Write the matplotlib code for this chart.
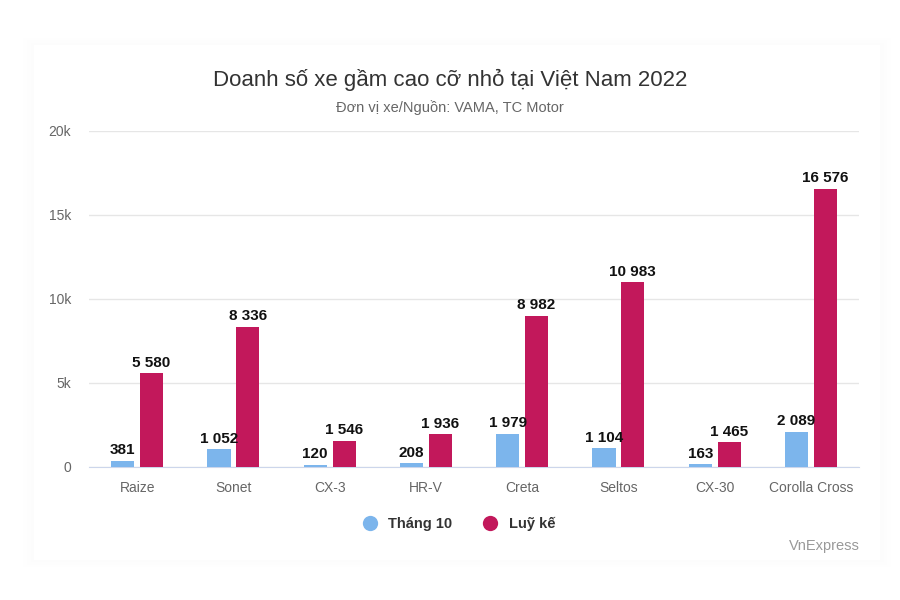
import numpy as np
import matplotlib.pyplot as plt
from matplotlib.patches import Rectangle
from matplotlib.lines import Line2D

plt.rcParams['font.family'] = ['Liberation Sans', 'DejaVu Sans']

xe = ['Raize', 'Sonet', 'CX-3', 'HR-V', 'Creta', 'Seltos', 'CX-30', 'Corolla Cross']
thang10 = [381, 1052, 120, 208, 1979, 1104, 163, 2089]
luyke = [5580, 8336, 1546, 1936, 8982, 10983, 1465, 16576]

mau_xanh = '#7cb5ec'
mau_do = '#c2185b'


def dinh_dang(v):
    return f'{v:,}'.replace(',', ' ')


fig = plt.figure(figsize=(9, 6), dpi=100)
fig.patch.set_facecolor('white')

# khung the (card) voi bong mo
for i, a in enumerate([0.012, 0.018, 0.025]):
    d = (3 - i) * 0.004
    fig.patches.append(Rectangle((0.038 - d, 0.067 - d), 0.94 + 2 * d, 0.858 + 2 * d,
                                 transform=fig.transFigure, facecolor='#f3ead8',
                                 alpha=a, edgecolor='none', zorder=-2))
fig.patches.append(Rectangle((0.038, 0.067), 0.94, 0.858, transform=fig.transFigure,
                             facecolor='white', edgecolor='none', zorder=-1))

ax = fig.add_axes([0.0989, 0.2217, 0.8556, 0.56])
ax.set_facecolor('none')
ax.set_zorder(1)

x = np.arange(len(xe))
w = 0.24
ax.bar(x - 0.15, thang10, w, color=mau_xanh, zorder=3)
ax.bar(x + 0.15, luyke, w, color=mau_do, zorder=3)

for xi, v in zip(x, thang10):
    ax.text(xi - 0.15, v + 220, dinh_dang(v), ha='center', va='bottom',
            fontsize=11, fontweight='bold', color='#111111', zorder=4)
for xi, v in zip(x, luyke):
    ax.text(xi + 0.15, v + 220, dinh_dang(v), ha='center', va='bottom',
            fontsize=11, fontweight='bold', color='#111111', zorder=4)

ax.set_xlim(-0.5, len(xe) - 0.5)
ax.set_ylim(0, 20000)
ax.set_yticks([0, 5000, 10000, 15000, 20000])
ax.set_yticklabels(['0', '5k', '10k', '15k', '20k'])
ax.set_xticks(x)
ax.set_xticklabels(xe)
ax.tick_params(axis='both', length=0, labelsize=10, colors='#666666')
ax.tick_params(axis='x', pad=10)
ax.tick_params(axis='y', pad=13)

ax.grid(axis='y', color='#e6e6e6', linewidth=1, zorder=0)
for s in ['top', 'right', 'left']:
    ax.spines[s].set_visible(False)
ax.spines['bottom'].set_color('#ccd6eb')

fig.text(0.5, 0.867, 'Doanh số xe gầm cao cỡ nhỏ tại Việt Nam 2022', ha='center',
         va='center', fontsize=16, color='#333333')
fig.text(0.5, 0.821, 'Đơn vị xe/Nguồn: VAMA, TC Motor', ha='center', va='center',
         fontsize=10.5, color='#666666')

handles = [Line2D([], [], marker='o', linestyle='none', markersize=11,
                  markerfacecolor=mau_xanh, markeredgecolor='none', label='Tháng 10'),
           Line2D([], [], marker='o', linestyle='none', markersize=11,
                  markerfacecolor=mau_do, markeredgecolor='none', label='Luỹ kế')]
leg = fig.legend(handles=handles, loc='center', bbox_to_anchor=(0.506, 0.127), ncol=2,
                 frameon=False, handletextpad=0.25, columnspacing=1.6,
                 prop={'weight': 'bold', 'size': 10.5})
for t in leg.get_texts():
    t.set_color('#333333')

fig.text(0.955, 0.09, 'VnExpress', ha='right', va='center', fontsize=10.5, color='#999999')

fig.savefig('out.png', dpi=100)
